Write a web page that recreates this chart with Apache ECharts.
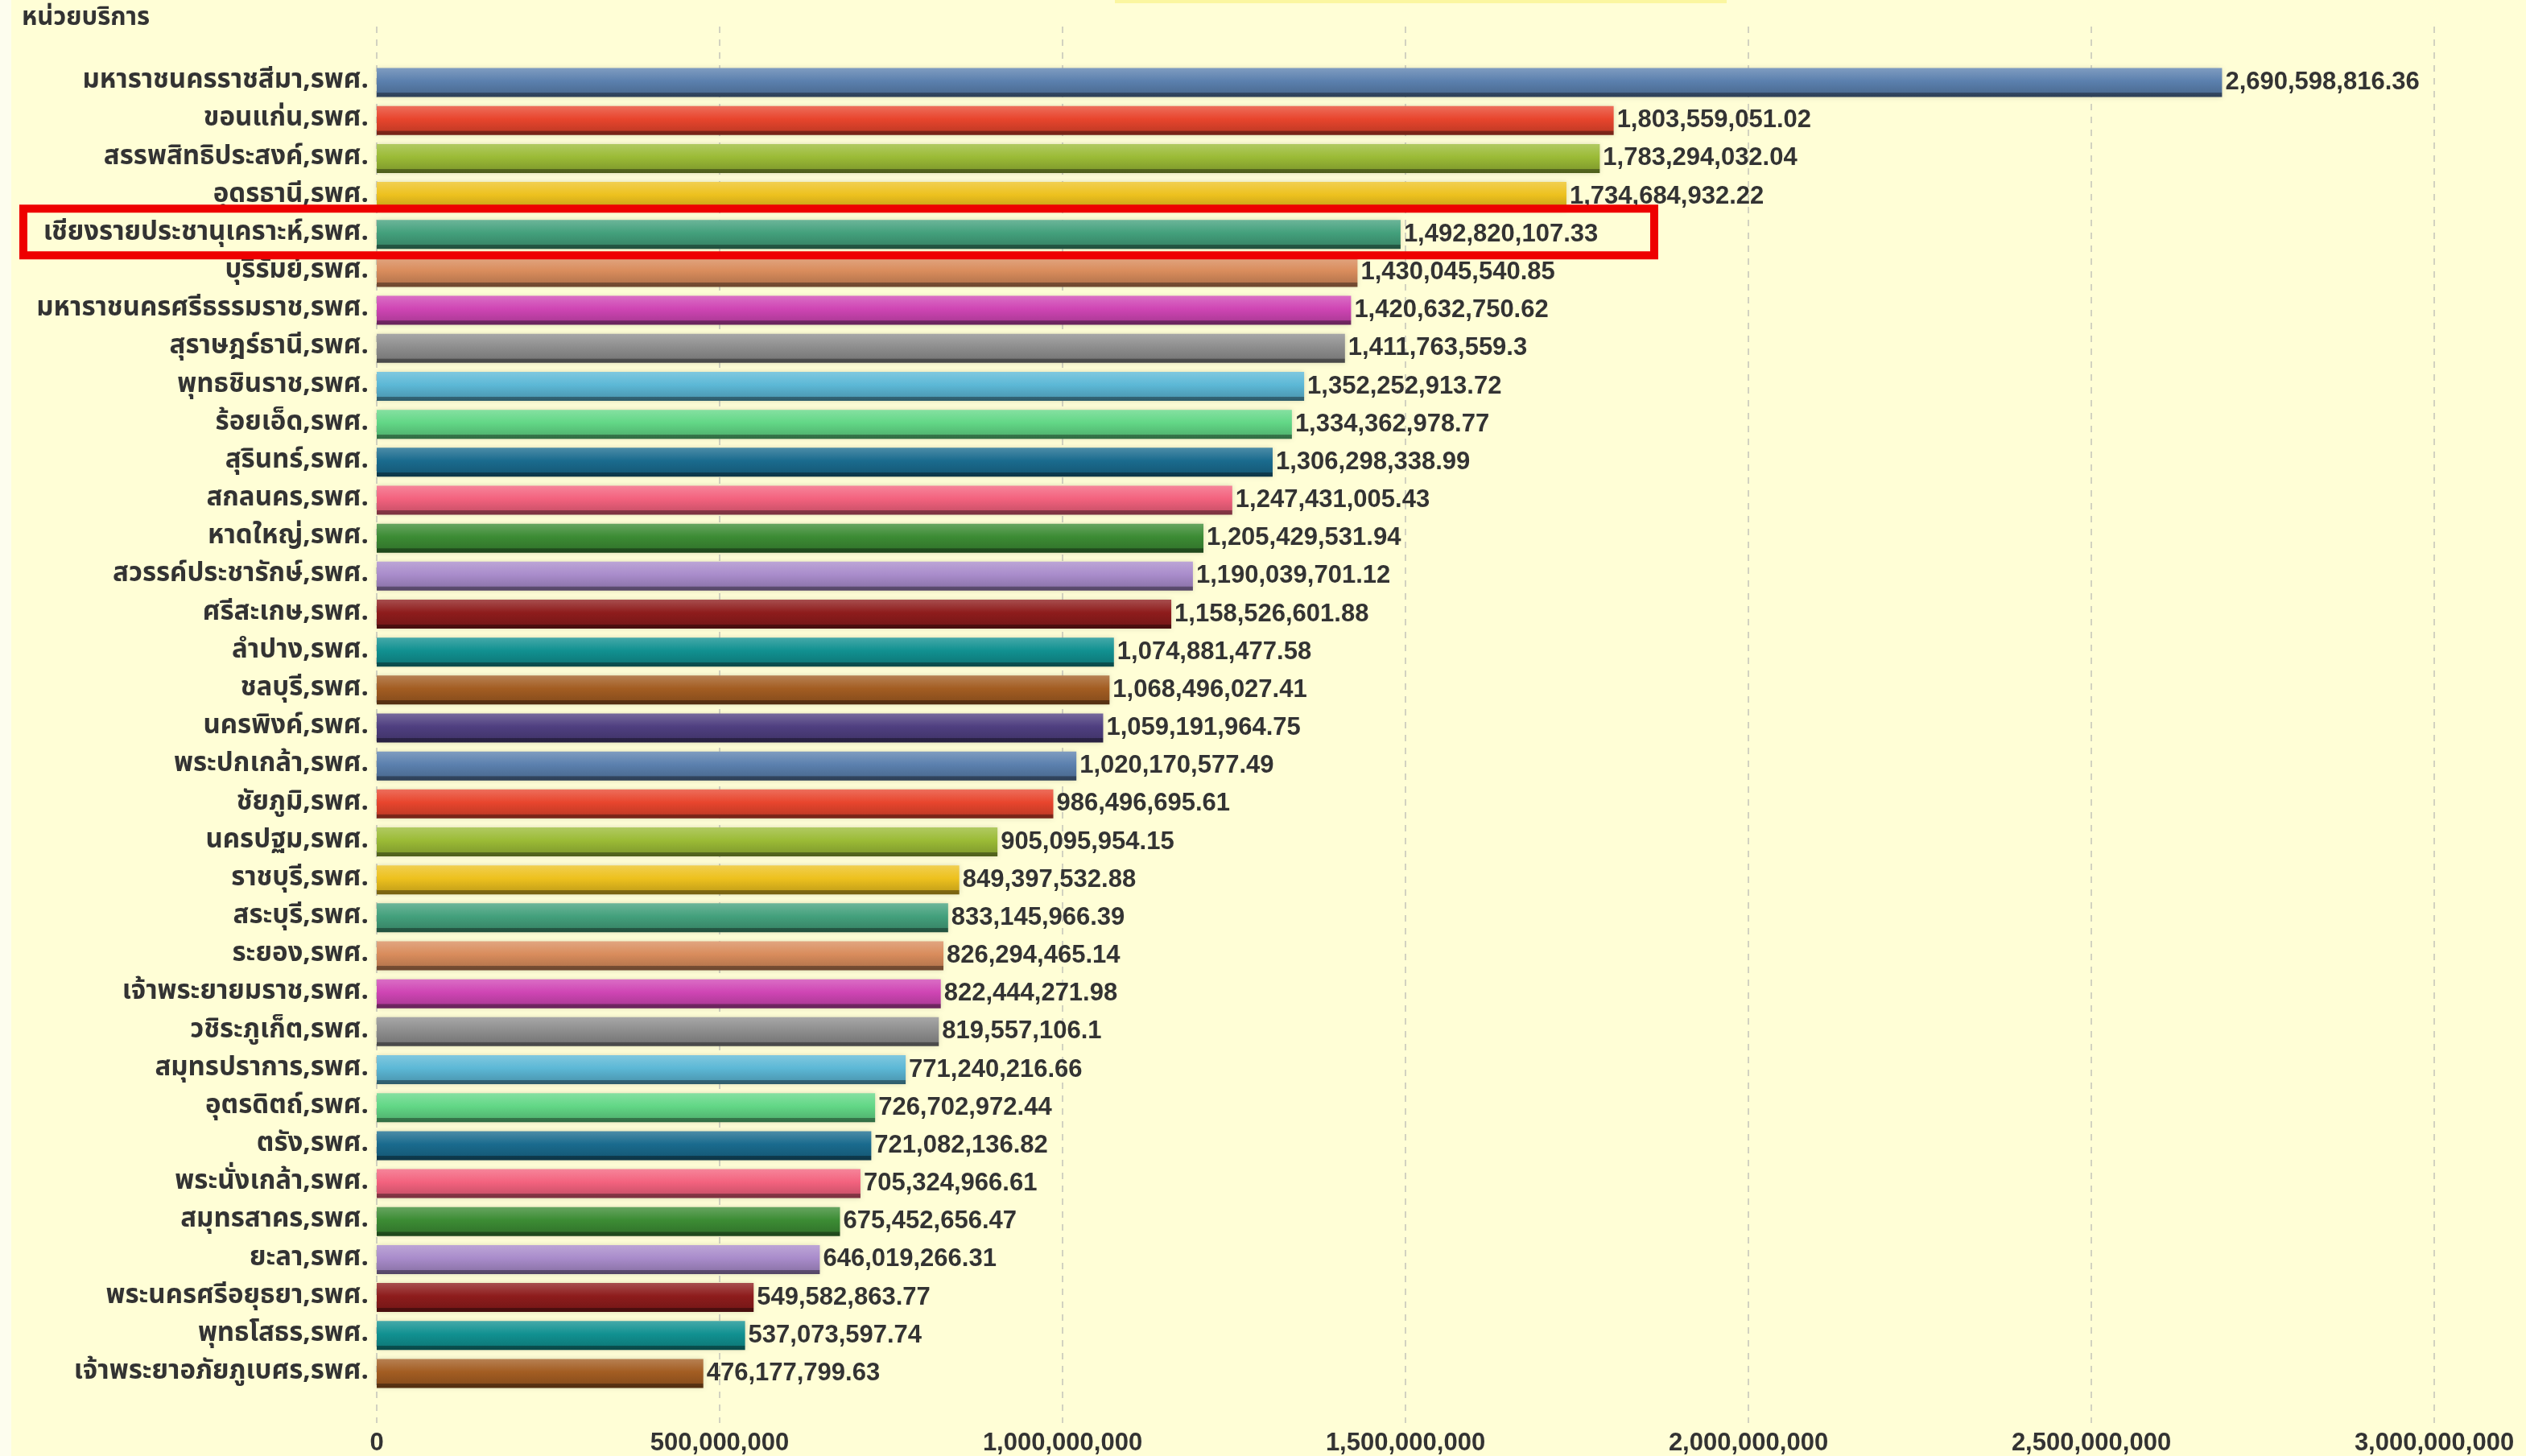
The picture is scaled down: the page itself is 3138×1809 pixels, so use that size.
<!DOCTYPE html>
<html>
<head>
<meta charset="utf-8">
<script src="https://cdn.jsdelivr.net/npm/echarts@6/dist/echarts.min.js"></script>
<style>
  html, body { margin: 0; padding: 0; background: #fffed6; }
  #chart { width: 3138px; height: 1809px; }
</style>
</head>
<body>
<div id="chart"></div>
<script>
// หน่วยบริการ (เรียงจากมากไปน้อย)
const hospitals = [
  'มหาราชนครราชสีมา,รพศ.', 'ขอนแก่น,รพศ.', 'สรรพสิทธิประสงค์,รพศ.', 'อุดรธานี,รพศ.',
  'เชียงรายประชานุเคราะห์,รพศ.', 'บุรีรัมย์,รพศ.', 'มหาราชนครศรีธรรมราช,รพศ.', 'สุราษฎร์ธานี,รพศ.',
  'พุทธชินราช,รพศ.', 'ร้อยเอ็ด,รพศ.', 'สุรินทร์,รพศ.', 'สกลนคร,รพศ.',
  'หาดใหญ่,รพศ.', 'สวรรค์ประชารักษ์,รพศ.', 'ศรีสะเกษ,รพศ.', 'ลำปาง,รพศ.',
  'ชลบุรี,รพศ.', 'นครพิงค์,รพศ.', 'พระปกเกล้า,รพศ.', 'ชัยภูมิ,รพศ.',
  'นครปฐม,รพศ.', 'ราชบุรี,รพศ.', 'สระบุรี,รพศ.', 'ระยอง,รพศ.',
  'เจ้าพระยายมราช,รพศ.', 'วชิระภูเก็ต,รพศ.', 'สมุทรปราการ,รพศ.', 'อุตรดิตถ์,รพศ.',
  'ตรัง,รพศ.', 'พระนั่งเกล้า,รพศ.', 'สมุทรสาคร,รพศ.', 'ยะลา,รพศ.',
  'พระนครศรีอยุธยา,รพศ.', 'พุทธโสธร,รพศ.', 'เจ้าพระยาอภัยภูเบศร,รพศ.'
]
const amounts = [
  2690598816.36, 1803559051.02, 1783294032.04, 1734684932.22,
  1492820107.33, 1430045540.85, 1420632750.62, 1411763559.3,
  1352252913.72, 1334362978.77, 1306298338.99, 1247431005.43,
  1205429531.94, 1190039701.12, 1158526601.88, 1074881477.58,
  1068496027.41, 1059191964.75, 1020170577.49, 986496695.61,
  905095954.15, 849397532.88, 833145966.39, 826294465.14,
  822444271.98, 819557106.1, 771240216.66, 726702972.44,
  721082136.82, 705324966.61, 675452656.47, 646019266.31,
  549582863.77, 537073597.74, 476177799.63
]
const highlightIndex = 4
// สีแท่ง วนซ้ำทุก 18 แท่ง
const palette = [
  '#5b80ae', '#e8452d', '#9bbb36', '#edc11e', '#43a07c', '#d98c5c',
  '#cf45b4', '#8e8e8e', '#5cb8d6', '#62d786', '#1a6b8e', '#f3627e',
  '#3c8c34', '#a98ccb', '#8e1c1c', '#119191', '#a35d22', '#4f3f80'
]

const fmt = new Intl.NumberFormat('en-US', {maximumFractionDigits: 2})
const thaiFont = '"Noto Sans Thai", "Noto Sans", "DejaVu Sans", sans-serif'
const numFont = '"Liberation Sans", Arial, sans-serif'

function shade(hex, amt) {
  let n = parseInt(hex.slice(1), 16)
  let r = (n >> 16) & 255, g = (n >> 8) & 255, b = n & 255
  const f = c => Math.max(0, Math.min(255, Math.round(amt >= 0 ? c + (255 - c) * amt : c * (1 + amt))))
  return 'rgb(' + f(r) + ',' + f(g) + ',' + f(b) + ')'
}

const barData = amounts.map((v, i) => {
  const base = palette[i % palette.length]
  return {
    value: v,
    itemStyle: {
      color: new echarts.graphic.LinearGradient(0, 0, 0, 1, [
        {offset: 0, color: shade(base, 0.22)},
        {offset: 0.45, color: base},
        {offset: 0.85, color: shade(base, -0.15)},
        {offset: 0.86, color: shade(base, -0.45)},
        {offset: 1, color: shade(base, -0.5)}
      ]),
      shadowColor: 'rgba(150,150,120,0.35)',
      shadowBlur: 6
    }
  }
})

const chart = echarts.init(document.getElementById('chart'))
const option = {
  backgroundColor: '#fffed6',
  animation: false,
  title: {
    text: 'หน่วยบริการ',
    left: 22,
    top: 4,
    textStyle: {fontFamily: thaiFont, fontSize: 31, fontWeight: 'bold', color: '#333'}
  },
  grid: [
    {left: 468, right: 114, top: 79, bottom: 79},
    {left: 468, right: 114, top: 33, bottom: 40}
  ],
  xAxis: [
    {gridIndex: 0, type: 'value', min: 0, max: 3000000000, show: false},
    {
      gridIndex: 1, type: 'value', min: 0, max: 3000000000, interval: 500000000,
      axisLine: {show: false},
      axisTick: {show: false},
      splitLine: {lineStyle: {color: '#d2d2c0', width: 2, type: [8, 8]}},
      axisLabel: {
        fontFamily: numFont, fontSize: 31, fontWeight: 'bold', color: '#333', margin: 10,
        formatter: v => fmt.format(v)
      }
    }
  ],
  yAxis: [
    {
      gridIndex: 0, type: 'category', data: hospitals, inverse: true,
      axisLine: {show: false},
      axisTick: {show: false},
      axisLabel: {fontFamily: thaiFont, fontSize: 33, fontWeight: 'bold', color: '#333', margin: 10}
    },
    {gridIndex: 1, type: 'value', min: 0, max: 1, show: false}
  ],
  series: [{
    type: 'bar',
    xAxisIndex: 0,
    yAxisIndex: 0,
    barWidth: 36,
    data: barData,
    label: {
      show: true,
      position: 'right',
      distance: 4,
      fontFamily: numFont,
      fontSize: 31,
      fontWeight: 'bold',
      color: '#333',
      formatter: p => fmt.format(p.value)
    }
  }]
}
chart.setOption(option)

// กรอบแดงเน้นแถวที่เลือก
const rowY = chart.convertToPixel({yAxisIndex: 0}, hospitals[highlightIndex])
chart.setOption({
  graphic: [
    {type: 'rect', left: 0, top: 0, z: -1, shape: {width: 14, height: 1809}, style: {fill: '#fdfdee'}},
    {type: 'rect', z: -1, shape: {x: 1385, y: 0, width: 760, height: 4}, style: {fill: '#fbf6a0'}},
    {
      type: 'rect', z: 100,
      shape: {x: 29, y: rowY - 32, width: 2026, height: 58},
      style: {fill: 'none', stroke: '#ee0000', lineWidth: 10}
    }
  ]
})
</script>
</body>
</html>
